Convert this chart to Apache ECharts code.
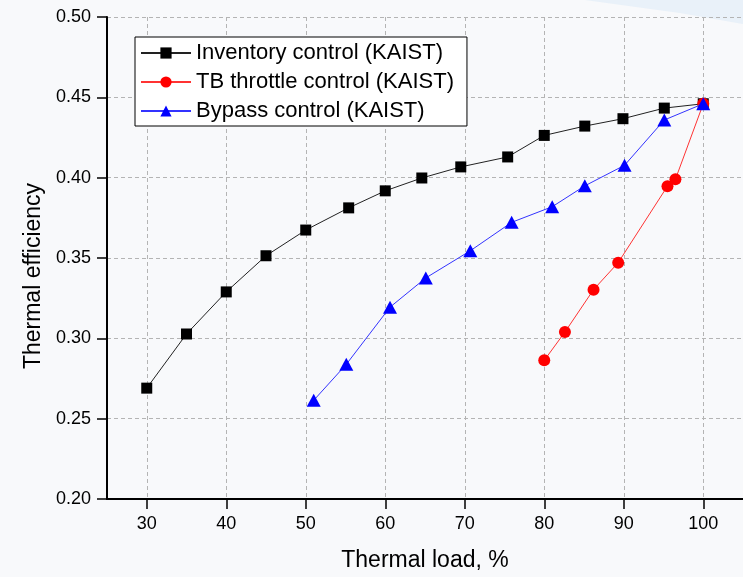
<!DOCTYPE html>
<html>
<head>
<meta charset="utf-8">
<script src="https://cdn.jsdelivr.net/npm/echarts@6/dist/echarts.min.js"></script>
<style>
  html, body { margin: 0; padding: 0; background: #f8f9fb; }
  #chart { width: 743px; height: 577px; }
</style>
</head>
<body>
<div id="chart"></div>
<script>
// Thermal efficiency vs. thermal load for three part-load control strategies
const seriesNames = [
  'Inventory control (KAIST)',
  'TB throttle control (KAIST)',
  'Bypass control (KAIST)'
];

const inventoryLoad = [30, 35, 40, 45, 50, 55.4, 60, 64.6, 69.5, 75.4, 80, 85.1, 89.9, 95.1, 100];
const inventoryEff  = [0.269, 0.3027, 0.3289, 0.3514, 0.3674, 0.3812, 0.3918, 0.3998, 0.4067, 0.4129, 0.4263, 0.4321, 0.4367, 0.4433, 0.446];

const throttleLoad = [80, 82.6, 86.2, 89.3, 95.5, 96.5, 100];
const throttleEff  = [0.2863, 0.3039, 0.3303, 0.3471, 0.3947, 0.399, 0.446];

const bypassLoad = [51, 55.1, 60.6, 65.1, 70.7, 75.9, 81, 85.1, 90.1, 95.1, 100];
const bypassEff  = [0.2614, 0.2838, 0.3194, 0.3376, 0.3545, 0.3722, 0.3819, 0.3949, 0.4077, 0.4359, 0.446];

const xTicks = [30, 40, 50, 60, 70, 80, 90, 100];

const font = "'Liberation Sans', Arial, sans-serif";

function pairs(xs, ys) {
  return xs.map((x, i) => [x, ys[i]]);
}

const chart = echarts.init(document.getElementById('chart'), null, { renderer: 'canvas' });

const gridLine = { show: true, lineStyle: { color: '#b4b4b4', type: [4, 3], width: 1 } };

chart.setOption({
  backgroundColor: '#f8f9fb',
  animation: false,
  textStyle: { fontFamily: font },
  graphic: [{
    type: 'polygon',
    z: -10,
    silent: true,
    shape: { points: [[585, 0], [743, 0], [743, 24], [680, 13]] },
    style: { fill: 'rgba(218, 234, 248, 0.5)' }
  }],
  grid: { left: 107, right: -2, top: 17, bottom: 76, containLabel: false },
  legend: {
    orient: 'vertical',
    left: 135,
    top: 37,
    data: seriesNames,
    backgroundColor: '#ffffff',
    borderColor: '#000',
    borderWidth: 1,
    borderRadius: 0,
    padding: [5, 13, 4, 5],
    itemWidth: 50,
    itemHeight: 14,
    itemGap: 7,
    textStyle: { fontFamily: font, fontSize: 22, color: '#000' }
  },
  xAxis: {
    type: 'value',
    min: 25,
    max: 105,
    name: 'Thermal load, %',
    nameLocation: 'middle',
    nameGap: 50,
    nameTextStyle: { fontFamily: font, fontSize: 23, color: '#000' },
    axisLine: { onZero: false, lineStyle: { color: '#000', width: 2 } },
    axisTick: { show: true, length: 10, customValues: xTicks, lineStyle: { color: '#000', width: 1.5 } },
    axisLabel: { customValues: xTicks, margin: 16, fontFamily: font, fontSize: 18, color: '#000' },
    splitLine: Object.assign({ customValues: xTicks }, gridLine)
  },
  yAxis: {
    type: 'value',
    min: 0.2,
    max: 0.5,
    interval: 0.05,
    name: 'Thermal efficiency',
    nameLocation: 'middle',
    nameGap: 62,
    nameTextStyle: { fontFamily: font, fontSize: 23, color: '#000', padding: [0, 36, 0, 0] },
    axisLine: { show: true, onZero: false, lineStyle: { color: '#000', width: 2 } },
    axisTick: { show: true, length: 10, lineStyle: { color: '#000', width: 1.5 } },
    axisLabel: { margin: 16, fontFamily: font, fontSize: 18, color: '#000', formatter: v => v.toFixed(2) },
    splitLine: gridLine
  },
  series: [
    {
      name: seriesNames[0],
      type: 'line',
      data: pairs(inventoryLoad, inventoryEff),
      symbol: 'rect',
      symbolSize: 11,
      itemStyle: { color: '#000' },
      lineStyle: { color: '#222', width: 1 },
      z: 2
    },
    {
      name: seriesNames[1],
      type: 'line',
      data: pairs(throttleLoad, throttleEff),
      symbol: 'circle',
      symbolSize: 12,
      itemStyle: { color: '#ff0000' },
      lineStyle: { color: '#ff3333', width: 1 },
      z: 3
    },
    {
      name: seriesNames[2],
      type: 'line',
      data: pairs(bypassLoad, bypassEff),
      symbol: 'triangle',
      symbolSize: [14, 13],
      itemStyle: { color: '#0000ff' },
      lineStyle: { color: '#3333ff', width: 1 },
      z: 4
    }
  ]
});
</script>
</body>
</html>
